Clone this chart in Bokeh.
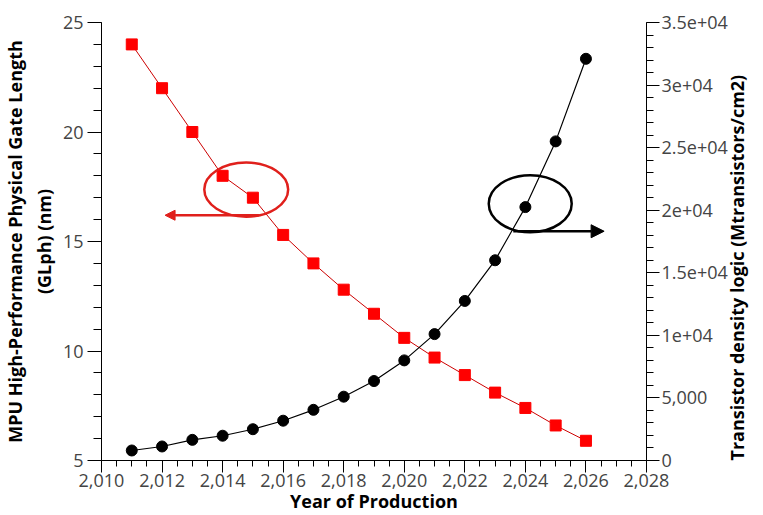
import math
import numpy as np
from bokeh.plotting import figure
from bokeh.models import (Range1d, LinearAxis, FixedTicker, NumeralTickFormatter,
                          Arrow, NormalHead)
from bokeh.embed import file_html
from bokeh.resources import INLINE

# ---- data ----
years = [2011, 2012, 2013, 2014, 2015, 2016, 2017, 2018,
         2019, 2020, 2021, 2022, 2023, 2024, 2025, 2026]
gate_length_nm = [24, 22, 20, 18, 17, 15.3, 14, 12.8,
                  11.7, 10.6, 9.7, 8.9, 8.1, 7.4, 6.6, 5.9]
density_mtr_cm2 = [800, 1120, 1650, 1980, 2500, 3180, 4050, 5100,
                   6350, 8000, 10100, 12750, 16000, 20250, 25500, 32100]

x_ticks = [2010, 2012, 2014, 2016, 2018, 2020, 2022, 2024, 2026, 2028]
left_ticks = [5, 10, 15, 20, 25]
right_ticks = [0, 5000, 10000, 15000, 20000, 25000, 30000, 35000]
right_tick_labels = ["0", "5,000", "1e+04", "1.5e+04", "2e+04", "2.5e+04", "3e+04", "3.5e+04"]

x_label = "Year of Production"
left_label = "MPU High-Performance Physical Gate Length\n(GLph) (nm)"
right_label = "Transistor density logic (Mtransistors/cm2)"

# annotation positions (data units)
red_ellipse = dict(x=2014.78, y=17.37, w=2.77, h=2.47)
red_arrow = dict(x0=2015.2, x1=2012.1, y=16.2)
black_ellipse = dict(x=2024.16, y=20520, w=2.74, h=4560)
black_arrow = dict(x0=2023.6, x1=2026.6, y=18320)

FONT = "Open Sans"
TICK_COLOR = "#444444"

p = figure(width=763, height=515, output_backend="svg", toolbar_location=None,
           x_range=Range1d(2010, 2028), y_range=Range1d(5, 25),
           min_border_left=100, min_border_right=117, min_border_top=22,
           min_border_bottom=55)
p.extra_y_ranges = {"density": Range1d(0, 35000)}
p.grid.visible = False
p.outline_line_color = None
p.background_fill_color = "white"
p.border_fill_color = "white"

def style_axis(ax):
    ax.axis_line_color = "black"
    ax.major_tick_line_color = "black"
    ax.minor_tick_line_color = "black"
    ax.major_tick_in = 0
    ax.minor_tick_in = 0
    ax.major_tick_out = 13
    ax.minor_tick_out = 7
    ax.major_label_text_font = FONT
    ax.major_label_text_font_size = "18px"
    ax.major_label_text_color = TICK_COLOR
    ax.axis_label_text_font = FONT
    ax.axis_label_text_font_size = "18px"
    ax.axis_label_text_font_style = "bold"
    ax.axis_label_text_color = "black"
    ax.major_label_standoff = 4
    ax.axis_label_standoff = 4

xa = p.xaxis[0]
xa.ticker = FixedTicker(ticks=x_ticks, minor_ticks=list(np.arange(2010, 2028.01, 0.5)))
xa.formatter = NumeralTickFormatter(format="0,0")
xa.axis_label = x_label
style_axis(xa)
xa.major_tick_out = 12
xa.minor_tick_out = 6
xa.major_label_standoff = 1
xa.axis_label_standoff = -1

ya = p.yaxis[0]
ya.ticker = FixedTicker(ticks=left_ticks, minor_ticks=list(np.arange(5, 25.01, 1)))
ya.axis_label = left_label
style_axis(ya)
ya.major_tick_out = 14
ya.minor_tick_out = 8

ra = LinearAxis(y_range_name="density", axis_label=right_label,
                ticker=FixedTicker(ticks=right_ticks,
                                   minor_ticks=list(np.arange(0, 35001, 1000))),
                major_label_overrides={t: l for t, l in zip(right_ticks, right_tick_labels)})
style_axis(ra)
ra.axis_label_orientation = math.pi / 2
ra.axis_label_align = "start"
ra.major_label_standoff = 2
ra.axis_label_standoff = 6
p.add_layout(ra, "right")

# series
p.line(years, gate_length_nm, line_color="#cc0000", line_width=1)
p.scatter(years, gate_length_nm, marker="square", size=11, fill_color="#ff0000",
          line_color="#ff0000")
p.line(years, density_mtr_cm2, line_color="black", line_width=1.2, y_range_name="density")
p.scatter(years, density_mtr_cm2, marker="circle", size=11, fill_color="black",
          line_color="black", y_range_name="density")

# annotations
p.ellipse(x=[red_ellipse["x"]], y=[red_ellipse["y"]], width=[red_ellipse["w"]],
          height=[red_ellipse["h"]], fill_alpha=0, line_color="#e0201c", line_width=2.5)
p.add_layout(Arrow(end=NormalHead(size=10, fill_color="#e0201c", line_color="#e0201c"),
                   x_start=red_arrow["x0"], y_start=red_arrow["y"],
                   x_end=red_arrow["x1"], y_end=red_arrow["y"],
                   line_color="#e0201c", line_width=2.5))
p.ellipse(x=[black_ellipse["x"]], y=[black_ellipse["y"]], width=[black_ellipse["w"]],
          height=[black_ellipse["h"]], fill_alpha=0, line_color="black", line_width=2.5,
          y_range_name="density")
p.add_layout(Arrow(end=NormalHead(size=13, fill_color="black", line_color="black"),
                   x_start=black_arrow["x0"], y_start=black_arrow["y"],
                   x_end=black_arrow["x1"], y_end=black_arrow["y"],
                   line_color="black", line_width=2.5, y_range_name="density"))

open("out.html", "w").write(file_html(p, INLINE))
